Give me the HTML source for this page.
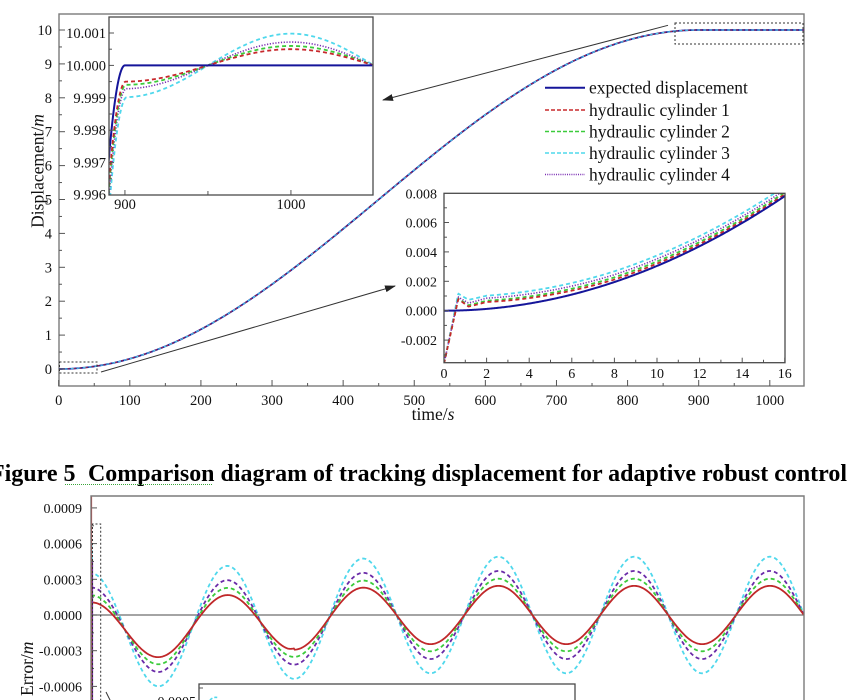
<!DOCTYPE html>
<html><head><meta charset="utf-8"><style>
html,body{margin:0;padding:0;background:#fff;}
svg{display:block;font-family:"Liberation Serif",serif;}
</style></head><body>
<svg id="s" width="859" height="700" viewBox="0 0 859 700" xmlns="http://www.w3.org/2000/svg">
<defs>
<clipPath id="cMain"><rect x="59" y="14" width="745" height="372"/></clipPath>
<clipPath id="cUI"><rect x="109" y="17" width="264" height="178"/></clipPath>
<clipPath id="cLI"><rect x="444" y="193.3" width="341" height="169.4"/></clipPath>
<clipPath id="cB"><rect x="91" y="496" width="713" height="210"/></clipPath>
<marker id="ah" markerWidth="11" markerHeight="7" refX="10" refY="3.5" orient="auto" markerUnits="userSpaceOnUse"><path d="M0,0 L11,3.5 L0,7 Z" fill="#222"/></marker>
</defs>
<rect x="0" y="0" width="859" height="700" fill="#fff"/>

<!-- main chart -->
<rect x="59" y="14" width="745" height="372" fill="none" stroke="#7a7a7a" stroke-width="1.4"/>
<g id="mc" clip-path="url(#cMain)"></g>
<rect x="675" y="23" width="128" height="21" fill="none" stroke="#333" stroke-width="1" stroke-dasharray="2 2"/>
<rect x="59.5" y="362" width="37.5" height="11" fill="none" stroke="#333" stroke-width="1" stroke-dasharray="2 2"/>
<g id="mt"></g>

<g font-size="14.5" fill="#111" text-anchor="end">
<text x="52" y="374">0</text>
<text x="52" y="340.1">1</text>
<text x="52" y="306.2">2</text>
<text x="52" y="272.3">3</text>
<text x="52" y="238.4">4</text>
<text x="52" y="204.5">5</text>
<text x="52" y="170.6">6</text>
<text x="52" y="136.7">7</text>
<text x="52" y="102.8">8</text>
<text x="52" y="68.9">9</text>
<text x="52" y="35">10</text>
</g>
<g font-size="14.5" fill="#111" text-anchor="middle">
<text x="58.7" y="405">0</text>
<text x="129.8" y="405">100</text>
<text x="200.9" y="405">200</text>
<text x="272" y="405">300</text>
<text x="343.1" y="405">400</text>
<text x="414.3" y="405">500</text>
<text x="485.4" y="405">600</text>
<text x="556.5" y="405">700</text>
<text x="627.6" y="405">800</text>
<text x="698.7" y="405">900</text>
<text x="769.8" y="405">1000</text>
</g>
<text x="433" y="420" font-size="17.5" fill="#111" text-anchor="middle">time/<tspan font-style="italic">s</tspan></text>
<text transform="translate(43.5,171) rotate(-90)" font-size="17.5" fill="#111" text-anchor="middle">Displacement/<tspan font-style="italic">m</tspan></text>

<!-- upper inset -->
<rect x="109" y="17" width="264" height="178" fill="#fff"/>
<g id="ui" clip-path="url(#cUI)"></g>
<g id="uit"></g>
<rect x="109" y="17" width="264" height="178" fill="none" stroke="#4a4a4a" stroke-width="1.3"/>
<g font-size="14.5" fill="#111" text-anchor="end">
<text x="106" y="38">10.001</text>
<text x="106" y="70.4">10.000</text>
<text x="106" y="102.8">9.999</text>
<text x="106" y="135.2">9.998</text>
<text x="106" y="167.6">9.997</text>
<text x="106" y="199.5">9.996</text>
</g>
<g font-size="14.5" fill="#111" text-anchor="middle">
<text x="125" y="209">900</text>
<text x="291" y="209">1000</text>
</g>

<!-- lower inset -->
<rect x="444" y="193.3" width="341" height="169.4" fill="#fff"/>
<g id="li" clip-path="url(#cLI)"></g>
<g id="lit"></g>
<rect x="444" y="193.3" width="341" height="169.4" fill="none" stroke="#4a4a4a" stroke-width="1.3"/>
<g font-size="14" fill="#111" text-anchor="end">
<text x="437" y="198.3">0.008</text>
<text x="437" y="227.7">0.006</text>
<text x="437" y="257.1">0.004</text>
<text x="437" y="286.5">0.002</text>
<text x="437" y="315.7">0.000</text>
<text x="437" y="345.1">-0.002</text>
</g>
<g font-size="14" fill="#111" text-anchor="middle">
<text x="444" y="378">0</text>
<text x="486.6" y="378">2</text>
<text x="529.2" y="378">4</text>
<text x="571.8" y="378">6</text>
<text x="614.4" y="378">8</text>
<text x="657" y="378">10</text>
<text x="699.6" y="378">12</text>
<text x="742.2" y="378">14</text>
<text x="784.8" y="378">16</text>
</g>

<!-- legend -->
<g>
<line x1="545" y1="87.7" x2="585" y2="87.7" stroke="#15159a" stroke-width="2"/>
<line x1="545" y1="110" x2="585" y2="110" stroke="#c8282c" stroke-width="1.5" stroke-dasharray="4 2"/>
<line x1="545" y1="131.5" x2="585" y2="131.5" stroke="#3bcb3b" stroke-width="1.5" stroke-dasharray="4 2"/>
<line x1="545" y1="153" x2="585" y2="153" stroke="#4fd8ec" stroke-width="1.5" stroke-dasharray="4 2"/>
<line x1="545" y1="174.5" x2="585" y2="174.5" stroke="#7b2fb3" stroke-width="1.5" stroke-dasharray="1 1.2"/>
</g>
<g font-size="17.5" fill="#111">
<text x="589" y="93.5">expected displacement</text>
<text x="589" y="115.8">hydraulic cylinder 1</text>
<text x="589" y="137.3">hydraulic cylinder 2</text>
<text x="589" y="158.8">hydraulic cylinder 3</text>
<text x="589" y="180.3">hydraulic cylinder 4</text>
</g>

<!-- arrows -->
<line x1="668" y1="25.3" x2="383" y2="100" stroke="#333" stroke-width="1" marker-end="url(#ah)"/>
<line x1="101" y1="372" x2="395" y2="286" stroke="#333" stroke-width="1" marker-end="url(#ah)"/>

<!-- caption -->
<g font-weight="bold" font-size="24" fill="#000">
<text x="75.5" y="481" text-anchor="end">Figure 5</text>
<text x="88" y="481" textLength="759" lengthAdjust="spacingAndGlyphs">Comparison diagram of tracking displacement for adaptive robust control</text>
</g>
<line x1="65" y1="484.5" x2="213" y2="484.5" stroke="#3aa53a" stroke-width="1" stroke-dasharray="1 1"/>

<!-- bottom chart -->
<line x1="91" y1="615" x2="804" y2="615" stroke="#6e6e6e" stroke-width="1.3"/>
<g id="bc" clip-path="url(#cB)"></g>
<line x1="92.3" y1="561" x2="92.3" y2="700" stroke="#6a2aa8" stroke-width="1.6"/>
<line x1="91.4" y1="496" x2="91.4" y2="700" stroke="#c8282c" stroke-width="1.4"/>
<g id="bt"></g>
<path d="M91,720 L91,496 L804,496 L804,720" fill="none" stroke="#7a7a7a" stroke-width="1.4"/>
<path d="M92.5,705 L92.5,524 L100.7,524 L100.7,705" fill="none" stroke="#333" stroke-width="1" stroke-dasharray="2 2"/>
<line x1="106" y1="692" x2="111" y2="702" stroke="#333" stroke-width="1"/>
<rect x="199" y="684" width="376" height="40" fill="#fff" stroke="#4a4a4a" stroke-width="1.3"/>
<line x1="199" y1="688" x2="203" y2="688" stroke="#555" stroke-width="1"/>
<path d="M210,700 Q214,696 219,698" fill="none" stroke="#4fd8ec" stroke-width="1.6" stroke-dasharray="3 2"/>
<g font-size="14" fill="#111" text-anchor="end">
<text x="82" y="513">0.0009</text>
<text x="82" y="548.6">0.0006</text>
<text x="82" y="584.3">0.0003</text>
<text x="82" y="620">0.0000</text>
<text x="82" y="655.7">-0.0003</text>
<text x="82" y="691.4">-0.0006</text>
<text x="196" y="706">0.0005</text>
</g>
<text transform="translate(33,696) rotate(-90)" font-size="17.5" fill="#111">Error/<tspan font-style="italic">m</tspan></text>
</svg>
<script>
(function(){
var NS='http://www.w3.org/2000/svg';
function el(g,tag,a){var e=document.createElementNS(NS,tag);for(var k in a)e.setAttribute(k,a[k]);document.getElementById(g).appendChild(e);return e;}
function pth(f,t0,t1,n){var d='';for(var i=0;i<=n;i++){var t=t0+(t1-t0)*i/n;var p=f(t);d+=(i?'L':'M')+p[0].toFixed(2)+' '+p[1].toFixed(2);}return d;}
function ln(g,x1,y1,x2,y2,c,w){el(g,'line',{x1:x1,y1:y1,x2:x2,y2:y2,stroke:c,'stroke-width':w});}
var PI=Math.PI;
var NAVY='#15159a',RED='#c8282c',GRN='#3bcb3b',CYN='#4fd8ec',PUR='#7b2fb3';

/* main */
var X=function(t){return 58.7+t*0.7111;}, Y=function(v){return 369-v*33.9;};
var s=function(t){return t<=0?0:(t<900?5*(1-Math.cos(PI*t/900)):10);};
var dm=pth(function(t){return [X(t),Y(s(t))];},0,1048,700);
el('mc','path',{d:dm,fill:'none',stroke:NAVY,'stroke-width':1.7});
el('mc','path',{d:dm,fill:'none',stroke:CYN,'stroke-width':1,'stroke-dasharray':'3 3'});
el('mc','path',{d:dm,fill:'none',stroke:RED,'stroke-width':0.8,'stroke-dasharray':'2 4','stroke-dashoffset':3});
for(var k=0;k<=20;k++){var y=Y(k*0.5);ln('mt',59,y,59+(k%2?3:6),y,'#555',1);}
for(var k=0;k<=20;k++){var x=X(k*50);ln('mt',x,386,x,386-(k%2?3:6),'#555',1);}

/* upper inset */
var XI=function(t){return 109+(t-890.4)*1.66;}, YI=function(d){return 65.4-d*32.4;};
var dE=function(t){return t<900?-5000*(1-Math.cos(PI*(900-t)/900)):0;};
var ser=[[CYN,0.98,1.2,'4 3',1.8],[PUR,0.72,0.9,'1.2 1.6',1.6],[GRN,0.6,0.7,'4 3',1.8],[RED,0.5,0.5,'4 3',1.8]];
ser.forEach(function(q){
  el('ui','path',{d:pth(function(t){return [XI(t),YI(dE(t-q[2])+q[1]*Math.sin(PI*(t-950)/100))];},888,1049,500),fill:'none',stroke:q[0],'stroke-width':q[4],'stroke-dasharray':q[3]});
});
el('ui','path',{d:pth(function(t){return [XI(t),YI(dE(t))];},888,1049,500),fill:'none',stroke:NAVY,'stroke-width':2});
for(var k=-8;k<=2;k++){var y=YI(k*0.5);if(y<17.5||y>194.5)continue;ln('uit',109,y,109+(k%2?3:5),y,'#555',1);}
[[900,5],[950,4],[1000,5]].forEach(function(q){var x=XI(q[0]);ln('uit',x,195,x,195-q[1],'#555',1);});

/* lower inset */
var XL=function(t){return 444+t*21.3;}, YL=function(d){return 310.7-d*14.7;};
var dL=function(t){return 5000*(1-Math.cos(PI*t/900));};
function pl(pts){return function(t){for(var i=1;i<pts.length;i++){if(t<=pts[i][0]){var a=pts[i-1],b=pts[i];var u=(t-a[0])/(b[0]-a[0]);return a[1]+(b[1]-a[1])*u;}}return pts[pts.length-1][1];};}
var lser=[[CYN,[[0,-3.6],[0.67,1.15],[1.15,0.7],[2,0.9],[8,0.73],[16,0.65]],'4 3',1.8],
 [PUR,[[0,-3.6],[0.67,0.92],[1.15,0.48],[2,0.73],[8,0.5],[16,0.42]],'1.2 1.6',1.6],
 [GRN,[[0,-3.6],[0.67,0.8],[1.15,0.33],[2,0.56],[8,0.32],[16,0.25]],'4 3',1.8],
 [RED,[[0,-3.6],[0.67,0.78],[1.15,0.24],[2,0.47],[8,0.17],[16,0.12]],'4 3',1.8]];
lser.forEach(function(q){var o=pl(q[1]);
  el('li','path',{d:pth(function(t){return [XL(t),YL(dL(t)+o(t))];},0,16.2,810),fill:'none',stroke:q[0],'stroke-width':q[3],'stroke-dasharray':q[2]});
});
el('li','path',{d:pth(function(t){return [XL(t),YL(dL(t))];},0,16.2,400),fill:'none',stroke:NAVY,'stroke-width':2});
for(var k=-3;k<=8;k++){var y=YL(k);if(y<193.5||y>362.5)continue;ln('lit',444,y,444+(k%2?3:5),y,'#555',1);}
for(var k=0;k<=16;k++){var x=XL(k);ln('lit',x,362.7,x,362.7-(k%2?3:5),'#555',1);}

/* bottom chart */
var XB=function(t){return 91+t*0.679;}, YB=function(e){return 615-e*119000;};
var B=function(t){return -0.00014*Math.max(0,1-t/450);};
var bser=[[CYN,0.00049,'4 3',1.8],['#6a2aa8',0.00037,'4 3',1.8],[GRN,0.000305,'4 3',1.8],['#c0282a',0.000245,null,1.8]];
bser.forEach(function(q){
  var isRed=(q[2]===null);
  var d=pth(function(t){var e=q[1]*Math.sin(PI*(t-950)/100)+B(t);
    if(isRed){ if(t>290&&t<300)e+=0.000012*(t-290)/10; }
    return [XB(t),YB(e)];},0,1050,840);
  if(q[0]===CYN)d='M91.6 543 L92 560 '+d.replace(/^M/,'L');
  var a={d:d,fill:'none',stroke:q[0],'stroke-width':q[3]};
  if(q[2])a['stroke-dasharray']=q[2];
  el('bc','path',a);
});
for(var k=-5;k<=7;k++){var y=YB(k*0.00015);if(y<496.5||y>700)continue;ln('bt',91,y,91+(k%2?3:6),y,'#555',1);}
})();
</script>
</body></html>
